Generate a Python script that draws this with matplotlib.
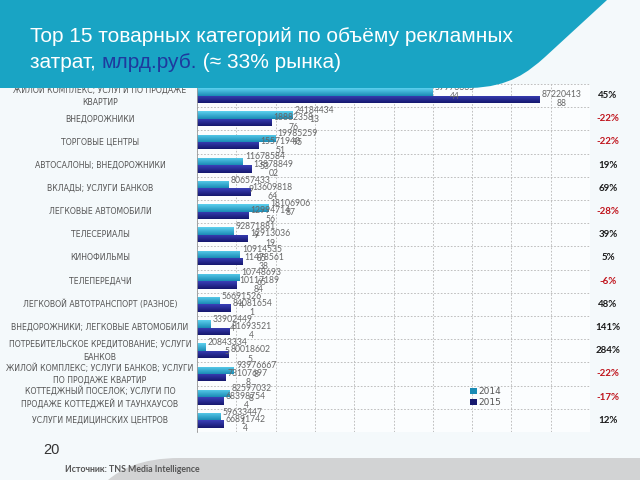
import numpy as np
import matplotlib
matplotlib.use("Agg")
import matplotlib.pyplot as plt
from matplotlib.path import Path
from matplotlib.patches import PathPatch
import matplotlib.transforms as mtransforms

categories = [
    "ЖИЛОЙ КОМПЛЕКС; УСЛУГИ ПО ПРОДАЖЕ\nКВАРТИР",
    "ВНЕДОРОЖНИКИ",
    "ТОРГОВЫЕ ЦЕНТРЫ",
    "АВТОСАЛОНЫ; ВНЕДОРОЖНИКИ",
    "ВКЛАДЫ; УСЛУГИ БАНКОВ",
    "ЛЕГКОВЫЕ АВТОМОБИЛИ",
    "ТЕЛЕСЕРИАЛЫ",
    "КИНОФИЛЬМЫ",
    "ТЕЛЕПЕРЕДАЧИ",
    "ЛЕГКОВОЙ АВТОТРАНСПОРТ (РАЗНОЕ)",
    "ВНЕДОРОЖНИКИ; ЛЕГКОВЫЕ АВТОМОБИЛИ",
    "ПОТРЕБИТЕЛЬСКОЕ КРЕДИТОВАНИЕ; УСЛУГИ\nБАНКОВ",
    "ЖИЛОЙ КОМПЛЕКС; УСЛУГИ БАНКОВ; УСЛУГИ\nПО ПРОДАЖЕ КВАРТИР",
    "КОТТЕДЖНЫЙ ПОСЕЛОК; УСЛУГИ ПО\nПРОДАЖЕ КОТТЕДЖЕЙ И ТАУНХАУСОВ",
    "УСЛУГИ МЕДИЦИНСКИХ ЦЕНТРОВ",
]
values_2014 = [5997333544, 2418443413, 1998525995, 1167858453, 806574339,
               1810690687, 928718819, 1091453585, 1074869365, 566915264,
               339024494, 208433345, 939766678, 825970328, 596334471]
values_2015 = [8722041388, 1888235876, 1557194051, 1387884902, 1360981864,
               1299471456, 1291303619, 1147856138, 1011718984, 840816541,
               816935214, 800186025, 731076978, 683987544, 668917424]
changes = ["45%", "-22%", "-22%", "19%", "69%", "-28%", "39%", "5%", "-6%",
           "48%", "141%", "284%", "-22%", "-17%", "12%"]
series_names = ["2014", "2015"]

W, H = 640, 480
fig = plt.figure(figsize=(6.4, 4.8), dpi=100, facecolor="#f4f9fb")

def fx(px):
    return px / W

def fy(py):
    return 1 - py / H

ax = fig.add_axes([fx(197), fy(432), fx(590) - fx(197), fy(84) - fy(432)])
ax.set_facecolor("#fbfdfe")

n = len(categories)
y = np.arange(n)
bh = 0.32
c2014 = "#27a6cd"
c2015 = "#1e2190"

def grad_bars(ys, vals, top, bottom):
    bars = ax.barh(ys, vals, height=bh, color=bottom, edgecolor="none", zorder=2)
    cmap = matplotlib.colors.LinearSegmentedColormap.from_list("g", [top, bottom])
    g = np.linspace(0, 1, 32).reshape(-1, 1)
    for b in bars:
        x0, y0 = b.get_x(), b.get_y()
        w, h = b.get_width(), b.get_height()
        im = ax.imshow(g, extent=[x0, x0 + w, y0 + h, y0], cmap=cmap,
                       aspect="auto", zorder=2.1, origin="upper")
        im.set_clip_path(b)
    return bars

b14 = grad_bars(y - bh / 2, values_2014, "#5cd0ee", "#1a8bb5")
b15 = grad_bars(y + bh / 2, values_2015, "#3a3fb8", "#15186e")

ax.set_xlim(0, 1.0e10)
ax.set_ylim(n - 0.5, -0.5)
ax.set_xticks(np.arange(0, 1.0e10 + 1, 1e9))
ax.set_yticks(np.arange(-0.5, n, 1.0))
ax.tick_params(length=0, labelleft=False, labelbottom=False)
ax.grid(True, color="#b5b5b5", linestyle=(0, (2, 2)), linewidth=0.6, zorder=0)
ax.set_axisbelow(True)
for s in ["top", "right", "bottom"]:
    ax.spines[s].set_visible(False)
ax.spines["left"].set_color("#9a9a9a")
ax.spines["left"].set_linewidth(0.6)

def wrap(v):
    s = str(v)
    return s[:8] + "\n" + s[8:] if len(s) > 8 else s

for vals, offs in ((values_2014, -bh / 2), (values_2015, bh / 2)):
    for i, v in enumerate(vals):
        ax.annotate(wrap(v), (v, i + offs), xytext=(1.5, 0),
                    textcoords="offset points", ha="left", va="center",
                    multialignment="center", fontsize=6.2, color="#666666",
                    family="Lato", linespacing=1.05, zorder=4)

ax.legend([b14, b15], series_names, loc="center",
          bbox_to_anchor=(0.735, 0.1), frameon=False, fontsize=6.5,
          handlelength=0.7, handleheight=0.7, handletextpad=0.2,
          labelspacing=0.25, labelcolor="#555555")

tr = mtransforms.blended_transform_factory(fig.transFigure, ax.transData)
for i, cat in enumerate(categories):
    fig.text(fx(100), i, cat, transform=tr, ha="center", va="center",
             multialignment="center", fontsize=5.6, color="#555555",
             family="DejaVu Sans", linespacing=1.5)
for i, ch in enumerate(changes):
    col = "#c0141c" if ch.startswith("-") else "#1a1a1a"
    fig.text(fx(608), i, ch, transform=tr, ha="center", va="center",
             fontsize=7, color=col, family="Lato", fontweight="bold")

# header banner
verts = [(0, 0), (607, 0), (545, 57), (515, 86), (470, 88), (0, 88), (0, 0)]
verts = [(0, 0), (607, 0), (545, 57), (528, 72), (510, 87), (470, 88), (0, 88), (0, 0)]
codes = [Path.MOVETO, Path.LINETO, Path.LINETO, Path.CURVE4, Path.CURVE4,
         Path.CURVE4, Path.LINETO, Path.CLOSEPOLY]
verts_f = [(fx(a), fy(b)) for a, b in verts]
banner = PathPatch(Path(verts_f, codes), transform=fig.transFigure,
                   facecolor="#19a4c4", edgecolor="none", zorder=5)
fig.add_artist(banner)

# footer grey shape
fverts = [(640, 458), (180, 458), (140, 458), (120, 470), (108, 480), (640, 480), (640, 458)]
fcodes = [Path.MOVETO, Path.LINETO, Path.CURVE4, Path.CURVE4, Path.CURVE4,
          Path.LINETO, Path.CLOSEPOLY]
footer = PathPatch(Path([(fx(a), fy(b)) for a, b in fverts], fcodes),
                   transform=fig.transFigure, facecolor="#d2d3d4",
                   edgecolor="none", zorder=1)
fig.add_artist(footer)

tfont = dict(fontsize=15, family="Liberation Sans", va="center", zorder=6)
fig.text(fx(30), fy(37), "Top 15 товарных категорий по объёму рекламных",
         color="white", **tfont)
fig.canvas.draw()
r = fig.canvas.get_renderer()
x = fx(30)
for part, col in (("затрат, ", "white"), ("млрд.руб.", "#1e3a9e"),
                  (" (≈ 33% рынка)", "white")):
    t = fig.text(x, fy(62), part, color=col, **tfont)
    bb = t.get_window_extent(renderer=r)
    x += bb.width / W

fig.text(fx(43), fy(450), "20", fontsize=10.5, color="#333333",
         family="Liberation Sans", va="center", zorder=6)
fig.text(fx(65), fy(470), "Источник: TNS Media Intelligence", fontsize=6.3,
         color="#555555", family="Lato", fontweight="bold", va="center", zorder=6)

fig.savefig("out.png", dpi=100, facecolor=fig.get_facecolor())
